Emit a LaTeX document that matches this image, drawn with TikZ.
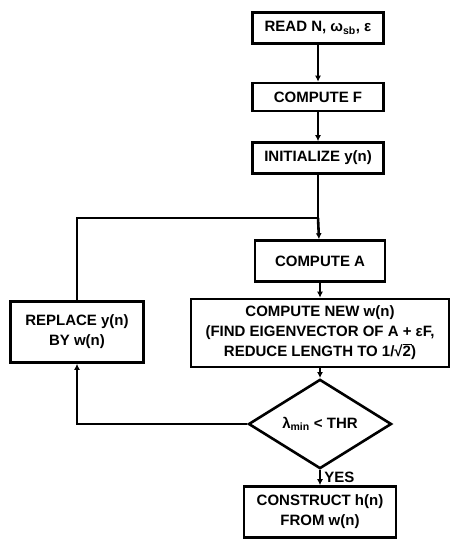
\documentclass[tikz,border=0pt]{standalone}
\usepackage{fontspec}
\setmainfont{Liberation Sans}
\usetikzlibrary{shapes.geometric,arrows.meta}

\begin{document}
\begin{tikzpicture}[x=1pt,y=1pt,
      >={Latex[length=6pt,width=6pt]},
      every node/.style={font=\bfseries\fontsize{15}{20}\selectfont},
      box node/.style={rectangle,draw,line width=2.6pt,align=center,inner sep=2pt},
      test node/.style={diamond,draw,line width=2.6pt,inner sep=0pt,
        minimum width=143,minimum height=84},
      flow/.style={line width=2.6pt}]

      \useasboundingbox (0,0) rectangle (451,-540);

      \node[box node,minimum width=131,minimum height=31] (read) at (318,-28) {READ N, ω\textsubscript{sb}, ε};
      \node[box node,minimum width=131,minimum height=28] (computeF) at (318,-97) {COMPUTE F};
      \node[box node,minimum width=131,minimum height=31] (init) at (318,-158) {INITIALIZE y(n)};
      \coordinate (junc) at (318,-218);
      \node[box node,minimum width=130,minimum height=41] (computeA) at (320,-261) {COMPUTE A};
      \node[box node,minimum width=258,minimum height=68] (computeNew) at (320,-333)
        {COMPUTE NEW w(n)\\(FIND EIGENVECTOR OF A + εF,\\REDUCE LENGTH TO 1/√\rlap{\rule[0.76em]{0.6em}{0.08em}}2)};
      \node[box node,minimum width=133,minimum height=61] (replace) at (77,-332) {REPLACE y(n)\\BY w(n)};
      \node[test node] (test) at (320,-424) {λ\textsubscript{min} < THR};
      \node[box node,minimum width=152,minimum height=51] (construct) at (320,-512) {CONSTRUCT h(n)\\FROM w(n)};

      % main line
      \draw[flow,->] (read) -- (computeF);
      \draw[flow,->] (computeF) -- (init);
      \draw[flow] (init) -- (junc);
      \draw[flow,->] (junc) -- (computeA);
      \draw[flow,->] (computeA) -- (computeNew);
      \draw[flow,->] (computeNew) -- (test);
      \draw[flow,->] (test) -- node[right,inner sep=3pt] {YES} (construct);

      % loop back
      \draw[flow,->] (test.west) -| (replace.south);
      \draw[flow] (replace.north) |- (junc);
    \end{tikzpicture}
\end{document}
